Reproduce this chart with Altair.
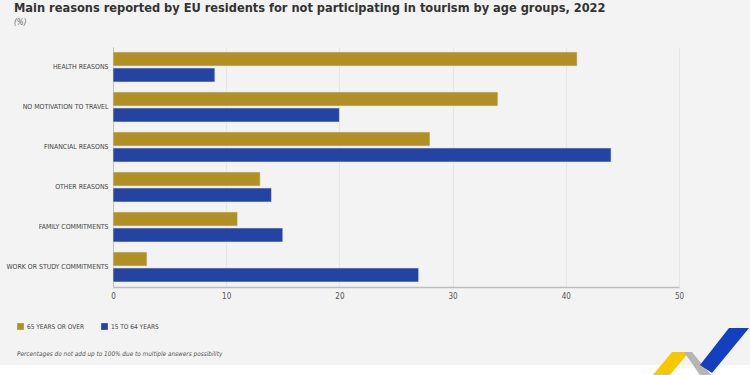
import altair as alt
import pandas as pd

reasons = ["HEALTH REASONS", "NO MOTIVATION TO TRAVEL", "FINANCIAL REASONS",
           "OTHER REASONS", "FAMILY COMMITMENTS", "WORK OR STUDY COMMITMENTS"]
groups = ["65 YEARS OR OVER", "15 TO 64 YEARS"]
age_65_plus = [41, 34, 28, 13, 11, 3]
age_15_64 = [9, 20, 44, 14, 15, 27]
x_ticks = [0, 10, 20, 30, 40, 50]
colors = ["#b08f26", "#2443a3"]

title_text = "Main reasons reported by EU residents for not participating in tourism by age groups, 2022"
subtitle_text = "(%)"
footnote_text = "Percentages do not add up to 100% due to multiple answers possibility"

rows = []
for r, a, b in zip(reasons, age_65_plus, age_15_64):
    rows.append({"reason": r, "group": groups[0], "value": a})
    rows.append({"reason": r, "group": groups[1], "value": b})
df = pd.DataFrame(rows)

FONT = "DejaVu Sans Condensed, DejaVu Sans, sans-serif"

bars = alt.Chart(df).mark_bar(stroke="#e4e4e4", strokeWidth=0.6).encode(
    x=alt.X("value:Q", scale=alt.Scale(domain=[0, 50]),
            axis=alt.Axis(values=x_ticks, title=None, ticks=False, labelPadding=5,
                          labelFlush=False,
                          grid=True, gridColor="#e2e2e2", gridWidth=0.8,
                          domainColor="#bdbdbd", domainWidth=1.5,
                          labelFont=FONT, labelFontSize=8, labelColor="#555555")),
    y=alt.Y("reason:N", sort=reasons,
            scale=alt.Scale(paddingInner=0.25, paddingOuter=0.125),
            axis=alt.Axis(title=None, ticks=False, labelPadding=5,
                          domainColor="#bdbdbd", domainWidth=1,
                          labelFont=FONT, labelFontSize=6.9, labelColor="#444444",
                          labelLimit=300)),
    yOffset=alt.YOffset("group:N", sort=groups, scale=alt.Scale(paddingInner=0.12)),
    color=alt.Color("group:N", sort=groups,
                    scale=alt.Scale(domain=groups, range=colors),
                    legend=alt.Legend(title=None, orient="none", legendX=-96, legendY=276,
                                      direction="horizontal", symbolType="square",
                                      symbolSize=45, symbolStrokeWidth=0,
                                      labelFont=FONT, labelFontSize=6.5,
                                      labelColor="#444444", columnPadding=17,
                                      labelOffset=3)),
)

foot = alt.Chart(pd.DataFrame({"t": [footnote_text]})).mark_text(
    align="left", baseline="middle", font=FONT, fontSize=6.4, fontStyle="italic",
    color="#555555"
).encode(x=alt.value(-96), y=alt.value(307), text="t:N")

strip = alt.Chart(pd.DataFrame({"k": [0]})).mark_rect(color="white").encode(
    x=alt.value(-113), x2=alt.value(637), y=alt.value(318), y2=alt.value(330)
)

logo_df = pd.DataFrame({
    "part": ["yellow", "gray", "blue"],
    "shape": [
        "M-0.592,0.010 L-0.245,0.010 L-0.633,0.480 L-0.980,0.480 Z",
        "M-0.347,0.010 L-0.184,0.010 L0.204,0.480 L-0.020,0.480 Z",
        "M0.571,-0.480 L0.980,-0.480 L0.224,0.439 L-0.020,0.276 Z",
    ],
    "fill": ["#f6c800", "#b5b5b5", "#1240c0"],
})
logo = alt.Chart(logo_df).mark_point(filled=True, opacity=1, size=9604, strokeWidth=0).encode(
    x=alt.value(588), y=alt.value(304.5),
    shape=alt.Shape("shape:N", scale=None),
    fill=alt.Fill("fill:N", scale=None),
)

chart = alt.layer(strip, bars, foot, logo).properties(
    width=566, height=240,
    title=alt.TitleParams(
        title_text, subtitle=subtitle_text, anchor="start", frame="group", dx=-99,
        offset=20, font=FONT, fontSize=12.7, fontWeight="bold", color="#333333",
        subtitleFont=FONT, subtitleFontSize=8, subtitleFontStyle="italic",
        subtitleColor="#666666", subtitlePadding=4),
    autosize=alt.AutoSizeParams(type="none"),
    padding={"left": 113, "top": 47, "right": 71, "bottom": 88},
    background="#f3f3f3",
).configure_view(stroke=None)

chart.save("out.html", embed_options={"renderer": "svg", "actions": False})
